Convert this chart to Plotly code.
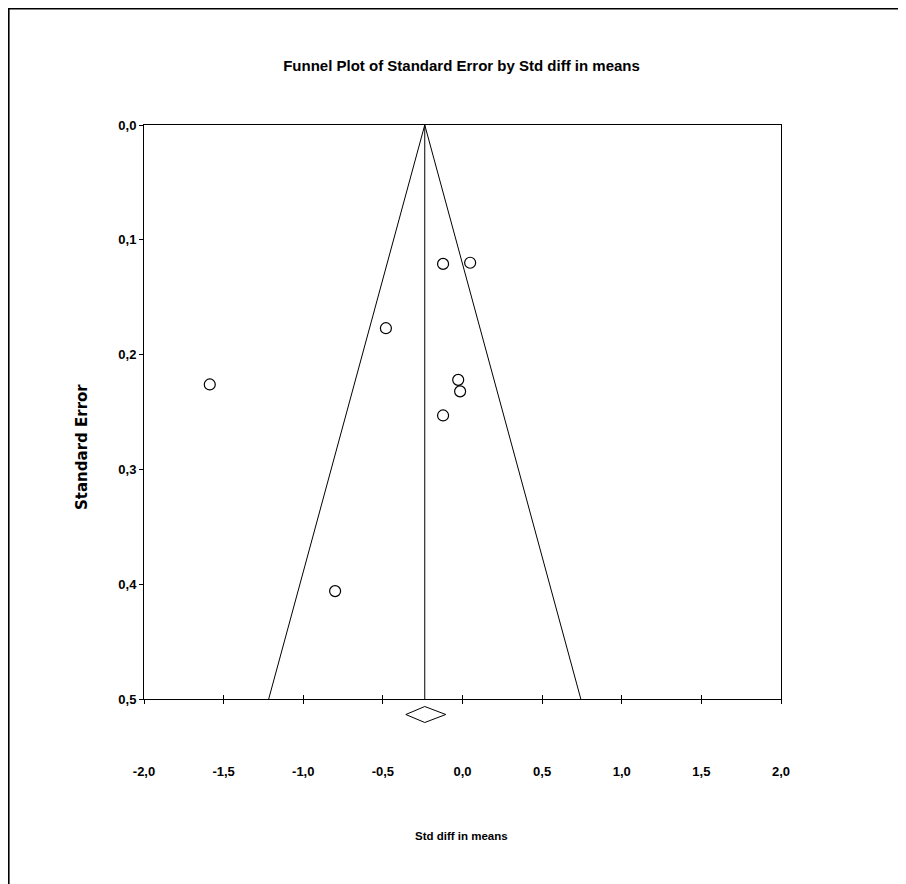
import plotly.graph_objects as go

# ---- data ----
std_diff = [-1.587, -0.481, -0.122, 0.048, -0.027, -0.015, -0.122, -0.800]
std_err = [0.226, 0.177, 0.121, 0.120, 0.222, 0.232, 0.253, 0.406]
summary_est = -0.237
summary_lower = -0.356
summary_upper = -0.105
se_max = 0.5

x_tickvals = [-2.0, -1.5, -1.0, -0.5, 0.0, 0.5, 1.0, 1.5, 2.0]
x_ticktext = ["-2,0", "-1,5", "-1,0", "-0,5", "0,0", "0,5", "1,0", "1,5", "2,0"]
y_tickvals = [0.0, 0.1, 0.2, 0.3, 0.4, 0.5]
y_ticktext = ["0,0", "0,1", "0,2", "0,3", "0,4", "0,5"]

W, H = 906, 884
OFF = 8  # page body margin
NARROW = "Liberation Sans Narrow, Arial Narrow, Liberation Sans, Arial, sans-serif"


def px(x):
    return (x - OFF) / W


def py(y):
    return 1 - (y - OFF) / H


fig = go.Figure()

# funnel (pseudo 95% limits)
z = 1.96
fig.add_trace(go.Scatter(
    x=[summary_est - z * se_max, summary_est, summary_est + z * se_max],
    y=[se_max, 0.0, se_max],
    mode="lines", line=dict(color="black", width=1), hoverinfo="skip", showlegend=False))
fig.add_trace(go.Scatter(
    x=[summary_est, summary_est], y=[0.0, se_max],
    mode="lines", line=dict(color="black", width=1), hoverinfo="skip", showlegend=False))

# studies
fig.add_trace(go.Scatter(
    x=std_diff, y=std_err, mode="markers",
    marker=dict(symbol="circle-open", size=11, color="black", line=dict(width=1.2)),
    showlegend=False))

# summary diamond (on auxiliary axis below the plot)
fig.add_trace(go.Scatter(
    x=[summary_lower, summary_est, summary_upper, summary_est, summary_lower],
    y=[0, 1, 0, -1, 0], xaxis="x", yaxis="y2",
    mode="lines", line=dict(color="black", width=1), showlegend=False, hoverinfo="skip"))

# dummy trace for overlaying tick axis
fig.add_trace(go.Scatter(x=[None], y=[None], xaxis="x2", yaxis="y", showlegend=False))

xd = [px(144), px(781)]
yd = [py(699), py(125)]
tickfont = dict(family=NARROW, size=13, color="black", weight="bold")

fig.update_layout(
    width=W, height=H, autosize=False,
    margin=dict(l=0, r=0, t=0, b=0, pad=0, autoexpand=False),
    paper_bgcolor="white", plot_bgcolor="white",
    title=dict(text="Funnel Plot of Standard Error by Std diff in means",
               x=px(461.5), y=py(66), xanchor="center", yanchor="middle",
               font=dict(family=NARROW, size=15, color="black", weight="bold")),
    xaxis=dict(domain=xd, range=[-2, 2], anchor="y", showgrid=False, zeroline=False,
               showline=True, linecolor="black", linewidth=1, mirror=True,
               ticks="inside", ticklen=4, tickcolor="black", automargin=False,
               tickvals=x_tickvals, ticktext=x_ticktext, tickfont=tickfont,
               ticklabelstandoff=60),
    xaxis2=dict(domain=xd, range=[-2, 2], anchor="y", overlaying="x", showgrid=False,
                zeroline=False, showline=False, ticks="outside", ticklen=4, tickcolor="black",
                tickvals=x_tickvals, showticklabels=False, automargin=False),
    yaxis=dict(domain=yd, range=[0.5, 0.0], anchor="x", showgrid=False, zeroline=False,
               showline=True, linecolor="black", linewidth=1, mirror=True,
               ticks="outside", ticklen=4, tickcolor="black", automargin=False,
               tickvals=y_tickvals, ticktext=y_ticktext, tickfont=tickfont),
    yaxis2=dict(domain=[py(724.5), py(704.5)], range=[-1.25, 1.25], anchor="x",
                visible=False, fixedrange=True),
    annotations=[
        dict(text="Std diff in means", x=px(461.8), y=py(836), xref="paper", yref="paper",
             xanchor="center", yanchor="middle", showarrow=False,
             font=dict(family=NARROW, size=11.5, color="black", weight="bold")),
        dict(text="Standard Error", x=px(82), y=py(447), xref="paper", yref="paper",
             xanchor="center", yanchor="middle", showarrow=False, textangle=-90,
             font=dict(family="DejaVu Sans, Arial, sans-serif", size=15, color="black", weight="bold")),
    ],
    shapes=[dict(type="rect", xref="paper", yref="paper", x0=0.6 / W, x1=1.05, y0=-0.05,
                 y1=1 - 0.6 / H, line=dict(color="black", width=2), layer="below")],
)

fig.write_html("out.html")
